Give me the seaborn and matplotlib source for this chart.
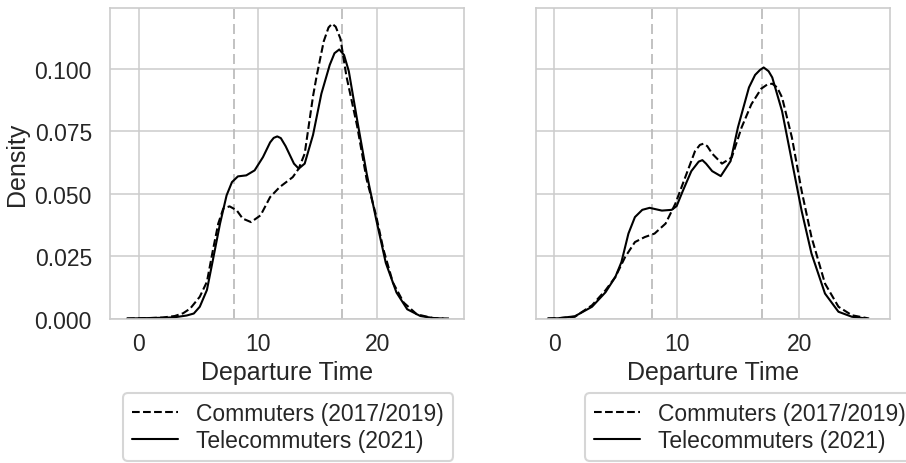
import numpy as np
import pandas as pd
import matplotlib
matplotlib.use("Agg")
import matplotlib.pyplot as plt
import seaborn as sns

# Departure-time density curves (hour of day -> density)
COMMUTE = "Commuters (2017/2019)"
TELE = "Telecommuters (2021)"

# Left panel
left_commute_hour = [-1, 0, 1, 2, 3, 3.7, 4.3, 5.1, 5.7, 6.2, 6.65, 7.07, 7.6, 8.2, 8.7,
                     9.4, 10.2, 11.0, 11.8, 12.9, 13.4, 13.9, 14.6, 14.9, 15.5, 15.9,
                     16.2, 16.5, 16.9, 17.4, 18.3, 19.1, 19.9, 20.5, 21.3, 22.2, 23.3,
                     24.7, 26]
left_commute_density = [0, 0.0001, 0.0002, 0.0004, 0.001, 0.0021, 0.004, 0.0087, 0.0147,
                        0.0273, 0.038, 0.044, 0.0449, 0.0433, 0.040, 0.0386, 0.0413,
                        0.0486, 0.0526, 0.0566, 0.060, 0.066, 0.089, 0.097, 0.111, 0.1165,
                        0.118, 0.1168, 0.112, 0.097, 0.077, 0.0556, 0.041, 0.0277, 0.0144,
                        0.0064, 0.0017, 0.0001, 0]

left_tele_hour = [-1, 0, 1, 2, 3, 4, 4.6, 5.1, 5.7, 6.2, 6.8, 7.35, 7.8, 8.3, 9.0, 9.7,
                  10.4, 11.0, 11.3, 11.6, 11.9, 12.3, 13.0, 13.4, 13.9, 14.6, 15.3, 16.0,
                  16.4, 16.8, 17.2, 17.6, 18.3, 19.1, 19.9, 20.7, 21.6, 22.5, 23.6, 24.7,
                  25.5]
left_tele_density = [0, 0.0001, 0.0002, 0.0003, 0.0005, 0.0012, 0.002, 0.0047, 0.0114,
                     0.0234, 0.038, 0.0493, 0.0546, 0.0569, 0.0573, 0.0593, 0.0646, 0.0705,
                     0.0723, 0.0729, 0.0722, 0.069, 0.062, 0.060, 0.062, 0.0735, 0.090,
                     0.1015, 0.1062, 0.1077, 0.1055, 0.099, 0.0795, 0.058, 0.0396, 0.0223,
                     0.0104, 0.0037, 0.001, 0.0002, 0]

# Right panel
right_commute_hour = [-0.5, 0.5, 1.7, 3.1, 4.2, 5.0, 5.8, 6.6, 7.4, 8.2, 9.1, 9.9, 10.7,
                      11.5, 11.9, 12.2, 12.5, 12.9, 13.7, 14.5, 15.3, 16.1, 16.9, 17.4,
                      17.8, 18.2, 18.6, 19.4, 20.2, 21.0, 22.1, 23.2, 24.3, 25.7]
right_commute_density = [0, 0.0002, 0.0007, 0.0053, 0.0113, 0.0166, 0.0246, 0.0306,
                         0.0326, 0.034, 0.038, 0.046, 0.0565, 0.067, 0.0695, 0.070, 0.069,
                         0.066, 0.062, 0.0645, 0.0765, 0.0858, 0.092, 0.0937, 0.094,
                         0.0925, 0.0885, 0.0725, 0.051, 0.0326, 0.014, 0.0047, 0.0013, 0]

right_tele_hour = [-0.5, 0.35, 1.7, 3.1, 4.2, 5.0, 5.5, 6.07, 6.6, 7.2, 7.8, 8.8, 9.6,
                   10.0, 10.5, 11.2, 11.8, 12.1, 12.4, 12.9, 13.6, 14.4, 15.0, 15.9, 16.4,
                   16.8, 17.1, 17.5, 17.8, 18.6, 19.4, 20.2, 21.0, 22.1, 23.2, 24.3, 25.5]
right_tele_density = [0, 0.0001, 0.0009, 0.0047, 0.0105, 0.0166, 0.0226, 0.034, 0.0406,
                      0.0435, 0.0443, 0.0432, 0.0435, 0.045, 0.051, 0.059, 0.0628, 0.0634,
                      0.062, 0.059, 0.057, 0.063, 0.0765, 0.0925, 0.0975, 0.0995, 0.1005,
                      0.099, 0.0965, 0.083, 0.063, 0.043, 0.026, 0.010, 0.0027, 0.0007, 0]

# Reference hours marked on both panels
ref_hours = [8, 17]


def frame(c_hour, c_dens, t_hour, t_dens):
    return pd.concat([
        pd.DataFrame({"Departure Time": c_hour, "Density": c_dens, "group": COMMUTE}),
        pd.DataFrame({"Departure Time": t_hour, "Density": t_dens, "group": TELE}),
    ], ignore_index=True)


panels = [
    frame(left_commute_hour, left_commute_density, left_tele_hour, left_tele_density),
    frame(right_commute_hour, right_commute_density, right_tele_hour, right_tele_density),
]

sns.set_theme(style="whitegrid", context="talk", font="Liberation Sans",
              rc={"axes.linewidth": 1.2, "grid.linewidth": 1.1,
                  "xtick.major.pad": 1.0, "ytick.major.pad": 4.0})

fig, axes = plt.subplots(1, 2, figsize=(9.06, 4.64), dpi=100, sharey=True)
fig.subplots_adjust(left=0.1214, right=0.9823, bottom=0.3114, top=0.9806, wspace=0.2034)

xlims = [(-2.43, 27.26), (-1.47, 27.4)]
legend_x = [0.503, 0.605]

for ax, df, xl, lx in zip(axes, panels, xlims, legend_x):
    for h in ref_hours:
        ax.axvline(h, color="0.72", lw=1.2, dashes=(6, 3), zorder=1)
    sns.lineplot(data=df, x="Departure Time", y="Density", style="group",
                 style_order=[COMMUTE, TELE],
                 dashes={COMMUTE: (3.7, 1.6), TELE: ""},
                 color="black", lw=1.5, estimator=None, ax=ax)
    ax.set_xlim(*xl)
    ax.set_ylim(0, 0.1243)
    ax.set_xticks([0, 10, 20])
    ax.xaxis.labelpad = 3
    sns.move_legend(ax, "upper center", bbox_to_anchor=(lx, -0.24), title=None,
                    frameon=True, borderaxespad=0, labelspacing=0.15)

axes[0].set_yticks([0, 0.025, 0.05, 0.075, 0.1])
axes[0].set_yticklabels(["0.000", "0.025", "0.050", "0.075", "0.100"])
axes[1].set_ylabel("")

fig.savefig("out.png", dpi=100)
